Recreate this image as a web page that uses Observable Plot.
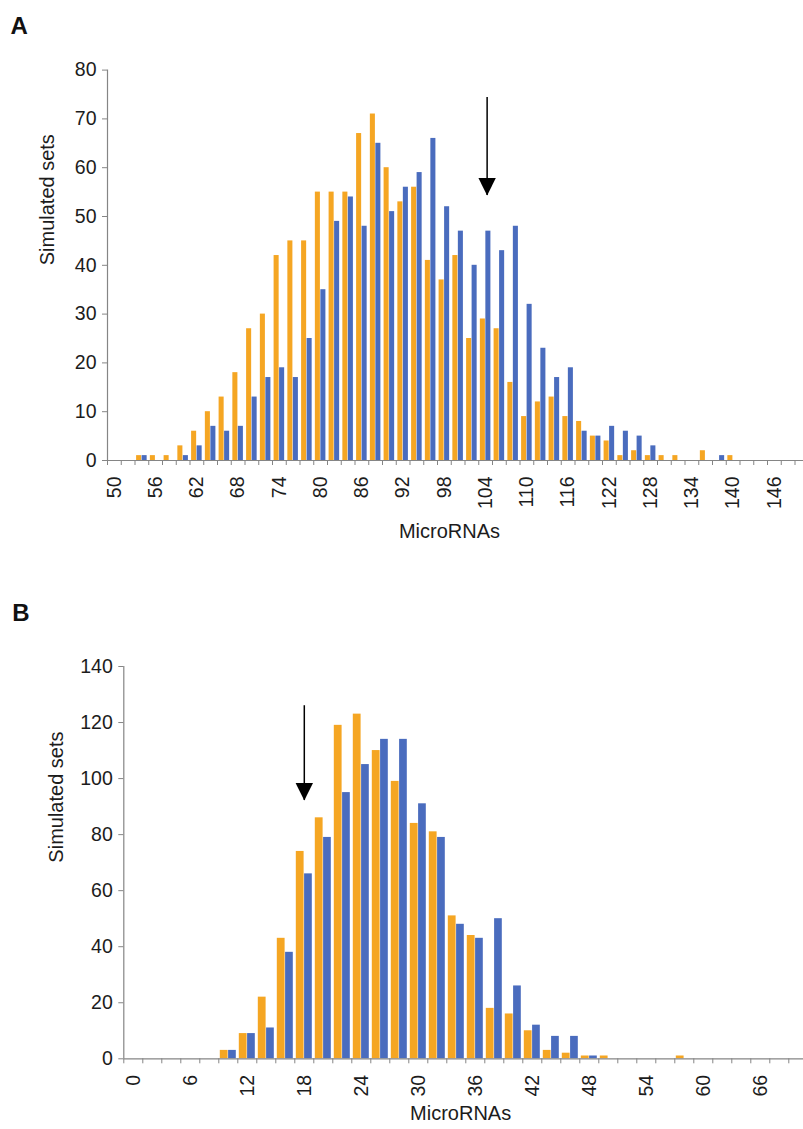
<!DOCTYPE html>
<html>
<head>
<meta charset="utf-8">
<script src="https://cdn.jsdelivr.net/npm/d3@7"></script>
<script src="https://cdn.jsdelivr.net/npm/@observablehq/plot@0.6"></script>
<style>
  html, body { margin: 0; padding: 0; background: #fff; overflow: hidden; }
  #chart { width: 803px; height: 1129px; position: relative; }
  #chart svg { display: block; overflow: hidden; }
</style>
</head>
<body>
<div id="chart"></div>
<script>
// ---------- Panel A data ----------
const catsA = [50,52,54,56,58,60,62,64,66,68,70,72,74,76,78,80,82,84,86,88,90,92,94,96,98,100,
               102,104,106,108,110,112,114,116,118,120,122,124,126,128,130,132,134,136,138,140,142,144,146,148,150];
const orangeA = [0,0,1,1,1,3,6,10,13,18, 27,30,42,45,45,55,55,55,67,71, 60,53,56,41,37,42,25,29,27,16,
                 9,12,13,9,8,5,4,1,2,1, 1,1,0,2,0,1,0,0,0,0, 0];
const blueA   = [0,0,1,0,0,1,3,7,6,7, 13,17,19,17,25,35,49,54,48,65, 51,56,59,66,52,47,40,47,43,48,
                 32,23,17,19,6,5,7,6,5,3, 0,0,0,0,1,0,0,0,0,0, 0];
const xLabelsA = [50,56,62,68,74,80,86,92,98,104,110,116,122,128,134,140,146];
const yTicksA = [0,10,20,30,40,50,60,70,80];
const arrowA = {cat: 104, from: 74.4, to: 54.3};

// ---------- Panel B data ----------
const catsB = [0,2,4,6,8,10,12,14,16,18,20,22,24,26,28,30,32,34,36,38,40,42,44,46,48,50,52,54,56,58,60,62,64,66,68,70];
const orangeB = [0,0,0,0,0,3,9,22,43,74, 86,119,123,110,99,84,81,51,44,18, 16,10,3,2,1,1,0,0,0,1, 0,0,0,0,0,0];
const blueB   = [0,0,0,0,0,3,9,11,38,66, 79,95,105,114,114,91,79,48,43,50, 26,12,8,8,1,0,0,0,0,0, 0,0,0,0,0,0];
const xLabelsB = [0,6,12,18,24,30,36,42,48,54,60,66];
const yTicksB = [0,20,40,60,80,100,120,140];
const arrowB = {cat: 18, from: 126, to: 92.2};

const xTitle = "MicroRNAs";
const yTitle = "Simulated sets";

// ---------- styles ----------
const FONT = "'Liberation Sans', Arial, Helvetica, sans-serif";
const ORANGE = "#F5A623";
const BLUE = "#4A6CBE";
const AXIS = "#858585";
const INK = "#1c1c1c";
const FS = 19.5;

// filled down-pointing triangle, origin at the tip
const downTri = {
  draw(ctx) {
    ctx.moveTo(0, 0);
    ctx.lineTo(-8.7, -17.5);
    ctx.lineTo(8.7, -17.5);
    ctx.closePath();
  }
};

function panel(o) {
  const bw = (o.xRange[1] - o.xRange[0]) / o.cats.length;
  const rowsO = o.cats.map((c, i) => ({cat: c, value: o.orange[i]}));
  const rowsB = o.cats.map((c, i) => ({cat: c, value: o.blue[i]}));
  return Plot.plot({
    width: 803,
    height: o.height,
    marginTop: o.mt,
    marginBottom: o.mb,
    marginLeft: o.ml,
    marginRight: 0,
    style: {fontFamily: FONT, background: "white", color: INK, overflow: "hidden"},
    x: {type: "band", domain: o.cats, range: o.xRange, padding: 0, round: false},
    y: {domain: [0, o.yMax]},
    marks: [
      Plot.barY(rowsO, {x: "cat", y: "value", fill: ORANGE, insetLeft: o.oIn[0], insetRight: o.oIn[1]}),
      Plot.barY(rowsB, {x: "cat", y: "value", fill: BLUE, insetLeft: o.bIn[0], insetRight: o.bIn[1]}),
      Plot.ruleY([0], {stroke: AXIS, strokeWidth: 1.2}),
      Plot.ruleX([o.cats[0]], {dx: -bw / 2, stroke: AXIS, strokeWidth: 1.2}),
      Plot.axisY({ticks: o.yTicks, tickSize: 5, tickPadding: 6, stroke: AXIS, fill: INK, fontSize: FS, label: null}),
      Plot.axisX({ticks: o.cats, tickSize: 5, tickFormat: () => "", dx: -bw / 2, stroke: AXIS, label: null}),
      Plot.axisX({ticks: o.xLabels, tickSize: 0, tickPadding: 16, tickRotate: -90, fill: INK, fontSize: FS, label: null}),
      Plot.ruleX([o.arrow], {x: "cat", y1: "from", y2: "to", dx: o.arrowDx, stroke: "black", strokeWidth: 1.5}),
      Plot.dot([o.arrow], {x: "cat", y: "to", dx: o.arrowDx, symbol: downTri, fill: "black", stroke: "none"}),
      Plot.text([yTitle], {frameAnchor: "left", rotate: -90, dx: o.yTitleDx, fontSize: 20, fill: INK}),
      Plot.text([xTitle], {frameAnchor: "bottom", dx: o.xTitleDx, dy: o.xTitleDy, fontSize: 20, fill: INK}),
      Plot.text([o.letter], {frameAnchor: "top-left", dx: o.letterDx, dy: o.letterDy, textAnchor: "start", lineAnchor: "top", fontWeight: "bold", fontSize: 24, fill: "#111"})
    ]
  });
}

const chart = document.getElementById("chart");
chart.append(panel({
  cats: catsA, orange: orangeA, blue: blueA, xLabels: xLabelsA, yTicks: yTicksA, yMax: 80,
  arrow: arrowA, letter: "A",
  height: 560, mt: 69.6, mb: 100, ml: 107, xRange: [107, 808.25],
  oIn: [1.6, 7.1], bIn: [7.1, 1.6],
  arrowDx: 1.5, yTitleDx: -60, xTitleDx: -6, xTitleDy: 77, letterDx: -97, letterDy: -53
}));
chart.append(panel({
  cats: catsB, orange: orangeB, blue: blueB, xLabels: xLabelsB, yTicks: yTicksB, yMax: 140,
  arrow: arrowB, letter: "B",
  height: 569, mt: 106, mb: 70.7, ml: 123.3, xRange: [123.3, 807.3],
  oIn: [1.5, 9.7], bIn: [9.8, 1.5],
  arrowDx: 0, yTitleDx: -67, xTitleDx: -3, xTitleDy: 61, letterDx: -111.5, letterDy: -62.7
}));
</script>
</body>
</html>
